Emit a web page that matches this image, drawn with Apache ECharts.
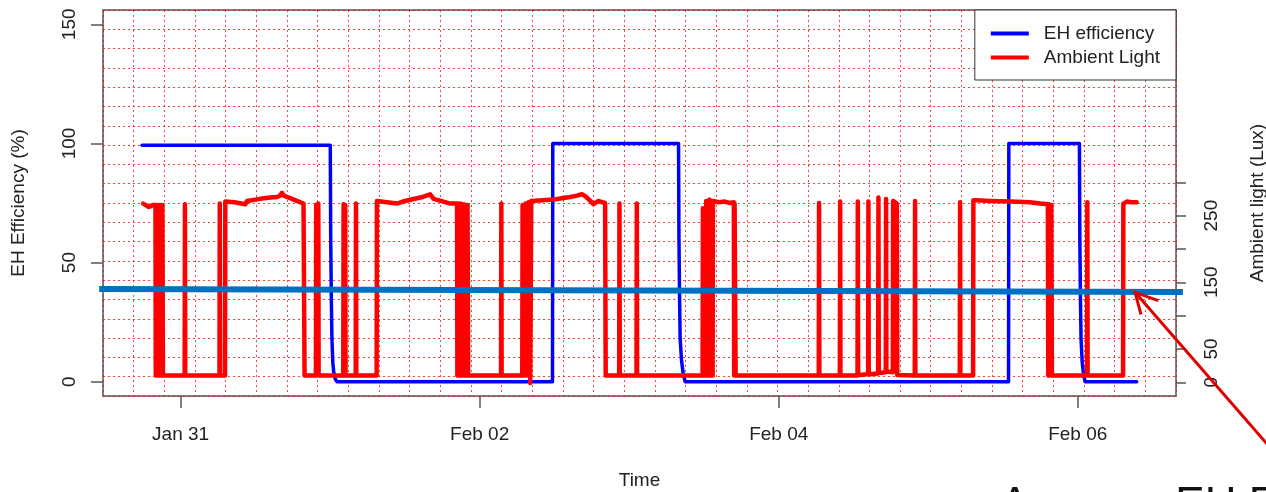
<!DOCTYPE html>
<html>

<head>
	<meta charset="UTF-8">
	<title></title>
	<style>
		body {
			margin: 0;
			background: #fff;
		}
		#chart {
			width: 1266px;
			height: 492px;
		}
	</style>
	<script src="https://cdn.jsdelivr.net/npm/echarts@6.0.0/dist/echarts.min.js"></script>
</head>

<body>
	<div id="chart"></div>
	<script>
		// time is in days from Jan 31 00:00
		var timeTickDays = [0, 2, 4, 6];
		var timeTickLabels = ['Jan 31', 'Feb 02', 'Feb 04', 'Feb 06'];
		var effTicks = [0, 50, 100, 150];
		var luxTicks = [0, 50, 100, 150, 200, 250, 300];
		var luxLabels = [0, 50, 150, 250];

		// EH efficiency (%)
		var ehEfficiency = [
			[-0.258, 99.2], [1.001, 99.2], [1.004, 60], [1.008, 35], [1.012, 18], [1.018, 8], [1.024, 4], [1.035, 1], [1.046, 0],
			[2.487, 0], [2.489, 100], [3.330, 100], [3.333, 60], [3.337, 35], [3.341, 18], [3.350, 9], [3.360, 4], [3.374, 0],
			[5.537, 0], [5.539, 100], [6.011, 100], [6.014, 60], [6.018, 35], [6.022, 18], [6.030, 8], [6.037, 4], [6.049, 0],
			[6.394, 0]
		];

		// ambient light (lux)
		var ambientLight = [
			[-0.251, 268], [-0.236, 266], [-0.215, 263], [-0.200, 264], [-0.185, 266], [-0.168, 266],
			[-0.166, 10], [-0.162, 265], [-0.158, 10], [-0.154, 266], [-0.150, 10], [-0.146, 265],
			[-0.142, 10], [-0.138, 266], [-0.134, 10], [-0.130, 265], [-0.126, 10], [-0.122, 266], [-0.118, 10],
			[0.027, 10], [0.029, 267], [0.031, 10],
			[0.260, 10], [0.262, 268], [0.264, 10],
			[0.297, 10], [0.299, 271], [0.360, 270], [0.433, 267], [0.444, 272], [0.500, 274], [0.555, 276],
			[0.600, 277], [0.645, 278], [0.665, 280], [0.678, 284], [0.690, 280], [0.711, 278], [0.745, 275],
			[0.778, 272], [0.822, 268], [0.829, 10],
			[0.905, 10], [0.907, 266], [0.909, 10], [0.919, 10], [0.921, 268], [0.923, 10],
			[1.088, 10], [1.090, 267], [1.092, 10], [1.099, 10], [1.101, 266], [1.103, 10],
			[1.171, 10], [1.173, 268], [1.175, 10],
			[1.311, 10], [1.313, 272], [1.380, 270], [1.447, 268], [1.500, 272], [1.558, 275], [1.620, 278],
			[1.669, 282], [1.692, 275], [1.758, 271], [1.803, 268], [1.849, 268],
			[1.851, 10], [1.855, 268], [1.859, 10], [1.863, 267], [1.867, 10], [1.871, 268], [1.875, 10],
			[1.879, 267], [1.883, 10], [1.887, 266], [1.891, 10], [1.895, 267], [1.899, 10], [1.903, 266],
			[1.907, 10], [1.911, 265], [1.915, 10], [1.919, 266], [1.923, 10],
			[2.143, 10], [2.145, 268], [2.147, 10],
			[2.285, 10], [2.287, 266], [2.290, 10], [2.305, 10], [2.307, 268], [2.311, 12],
			[2.325, 10], [2.327, 270], [2.334, 270], [2.338, -1], [2.342, 0], [2.345, 272],
			[2.420, 273], [2.494, 274], [2.550, 276], [2.605, 278], [2.650, 280], [2.684, 282], [2.700, 280],
			[2.717, 277], [2.740, 272], [2.761, 267], [2.780, 270], [2.795, 272], [2.820, 270], [2.839, 269],
			[2.843, 10],
			[2.933, 10], [2.935, 268], [2.937, 10],
			[3.049, 10], [3.051, 268], [3.053, 10],
			[3.491, 10], [3.493, 261], [3.495, 10], [3.513, 10], [3.515, 272], [3.517, 10],
			[3.535, 10], [3.537, 274], [3.539, 10], [3.558, 10], [3.560, 272],
			[3.600, 270], [3.640, 271], [3.670, 269], [3.700, 270], [3.702, 10], [3.705, 268], [3.710, 268], [3.712, 10],
			[4.268, 10], [4.270, 269], [4.272, 10],
			[4.409, 10], [4.411, 271], [4.413, 10],
			[4.527, 10], [4.529, 271], [4.531, 11],
			[4.598, 12], [4.600, 271], [4.602, 12],
			[4.665, 13], [4.667, 277], [4.669, 14],
			[4.716, 15], [4.718, 275], [4.720, 16],
			[4.763, 15], [4.765, 272], [4.790, 268], [4.793, 11],
			[4.910, 10], [4.912, 272], [4.914, 10],
			[5.211, 10], [5.213, 270], [5.215, 10],
			[5.300, 10], [5.302, 273], [5.325, 273], [5.413, 272], [5.547, 271], [5.681, 270], [5.748, 268], [5.800, 267],
			[5.803, 10], [5.807, 267], [5.811, 10], [5.815, 266], [5.819, 10], [5.823, 266], [5.827, 10],
			[6.062, 10], [6.064, 270], [6.066, 10],
			[6.303, 10], [6.305, 268], [6.328, 271], [6.360, 270], [6.394, 270]
		];

		// overlay: average EH efficiency line and the arrow pointing at it (data coords)
		var averageLine = [[-0.544, 38.9], [6.703, 37.7]];
		var arrowHead = [[6.539, 34.0], [6.383, 37.5], [6.423, 28.2]];
		var arrowTail = [[6.383, 37.5], [7.486, -42.0]];
		var noteText = 'Average EH Efficiency';

		var font = 'Liberation Sans, Arial, sans-serif';
		var gridDots = {color: 'rgba(255,0,0,0.75)', type: [2, 3], width: 1};
		var noLine = {show: false, onZero: false};

		var myChart = echarts.init(document.getElementById('chart'));
		myChart.setOption({
			animation: false,
			textStyle: {fontFamily: font},
			grid: {
				left: 103,
				right: 90,
				top: 10,
				bottom: 96,
				outerBoundsMode: 'none',
				containLabel: false,
				show: true,
				borderColor: '#555',
				borderWidth: 1.5
			},
			legend: {
				data: ['EH efficiency', 'Ambient Light'],
				orient: 'vertical',
				right: 90,
				top: 10,
				padding: [14, 16, 13, 16],
				itemGap: 5,
				itemWidth: 38,
				itemHeight: 4,
				icon: 'rect',
				borderColor: '#333',
				borderWidth: 1,
				borderRadius: 0,
				backgroundColor: '#fff',
				textStyle: {fontSize: 19, color: '#222', padding: [0, 0, 0, 10]}
			},
			xAxis: [
				{
					type: 'value',
					min: -0.519,
					max: 6.657,
					position: 'bottom',
					axisLine: noLine,
					splitLine: {show: false},
					axisTick: {customValues: timeTickDays, length: 12, lineStyle: {color: '#555', width: 1.5}},
					axisLabel: {
						customValues: timeTickDays,
						fontSize: 19,
						color: '#222',
						margin: 29,
						formatter: function (v) {
							return timeTickLabels[timeTickDays.indexOf(v)];
						}
					},
					name: 'Time',
					nameLocation: 'middle',
					nameGap: 75,
					nameTextStyle: {fontSize: 19, color: '#222'}
				},
				{
					type: 'value',
					min: 0,
					max: 35,
					interval: 1,
					position: 'top',
					axisLine: noLine,
					axisTick: {show: false},
					axisLabel: {show: false},
					splitLine: {show: true, lineStyle: gridDots}
				}
			],
			yAxis: [
				{
					type: 'value',
					min: -6,
					max: 156,
					position: 'left',
					axisLine: noLine,
					splitLine: {show: false},
					axisTick: {customValues: effTicks, length: 12, lineStyle: {color: '#555', width: 1.5}},
					axisLabel: {customValues: effTicks, rotate: 90, fontSize: 19, color: '#222', margin: 24},
					name: 'EH Efficiency (%)',
					nameLocation: 'middle',
					nameRotate: 90,
					nameGap: 75,
					nameTextStyle: {fontSize: 19, color: '#222'}
				},
				{
					type: 'value',
					min: -20.6,
					max: 558.4,
					position: 'right',
					axisLine: noLine,
					splitLine: {show: false},
					axisTick: {customValues: luxTicks, length: 10, lineStyle: {color: '#555', width: 1.5}},
					axisLabel: {customValues: luxLabels, rotate: 90, fontSize: 19, color: '#222', margin: 26},
					name: 'Ambient light (Lux)',
					nameLocation: 'middle',
					nameRotate: 90,
					nameGap: 72,
					nameTextStyle: {fontSize: 19, color: '#222'}
				},
				{
					type: 'value',
					min: 0,
					max: 20,
					interval: 1,
					position: 'left',
					axisLine: noLine,
					axisTick: {show: false},
					axisLabel: {show: false},
					splitLine: {show: true, lineStyle: gridDots}
				}
			],
			series: [
				{
					name: 'EH efficiency',
					type: 'line',
					xAxisIndex: 0,
					yAxisIndex: 0,
					data: ehEfficiency,
					symbol: 'none',
					color: '#0000ff',
					lineStyle: {width: 3.5, join: 'round', cap: 'round'},
					z: 2
				},
				{
					name: 'Ambient Light',
					type: 'line',
					xAxisIndex: 0,
					yAxisIndex: 1,
					data: ambientLight,
					symbol: 'none',
					color: '#ff0000',
					lineStyle: {width: 4.5, join: 'round', cap: 'round'},
					z: 3
				}
			]
		});

		// the overlay lines reach past the plot box, so they are drawn as graphics
		// placed through the axes
		function toPx(points) {
			return points.map(function (p) {
				return myChart.convertToPixel({xAxisIndex: 0, yAxisIndex: 0}, p);
			});
		}

		myChart.setOption({
			graphic: [
				{
					type: 'polyline',
					shape: {points: toPx(averageLine)},
					style: {stroke: '#0070c0', lineWidth: 6, fill: null},
					z: 20
				},
				{
					type: 'polyline',
					shape: {points: toPx(arrowTail)},
					style: {stroke: '#dd0000', lineWidth: 3, fill: null},
					z: 21
				},
				{
					type: 'polyline',
					shape: {points: toPx(arrowHead)},
					style: {stroke: '#dd0000', lineWidth: 3, fill: null, lineJoin: 'miter'},
					z: 21
				},
				{
					type: 'text',
					left: 1000,
					top: 484,
					style: {text: noteText, fontSize: 44, fontFamily: font, fill: '#111'}
				}
			]
		});
	</script>
</body>

</html>
